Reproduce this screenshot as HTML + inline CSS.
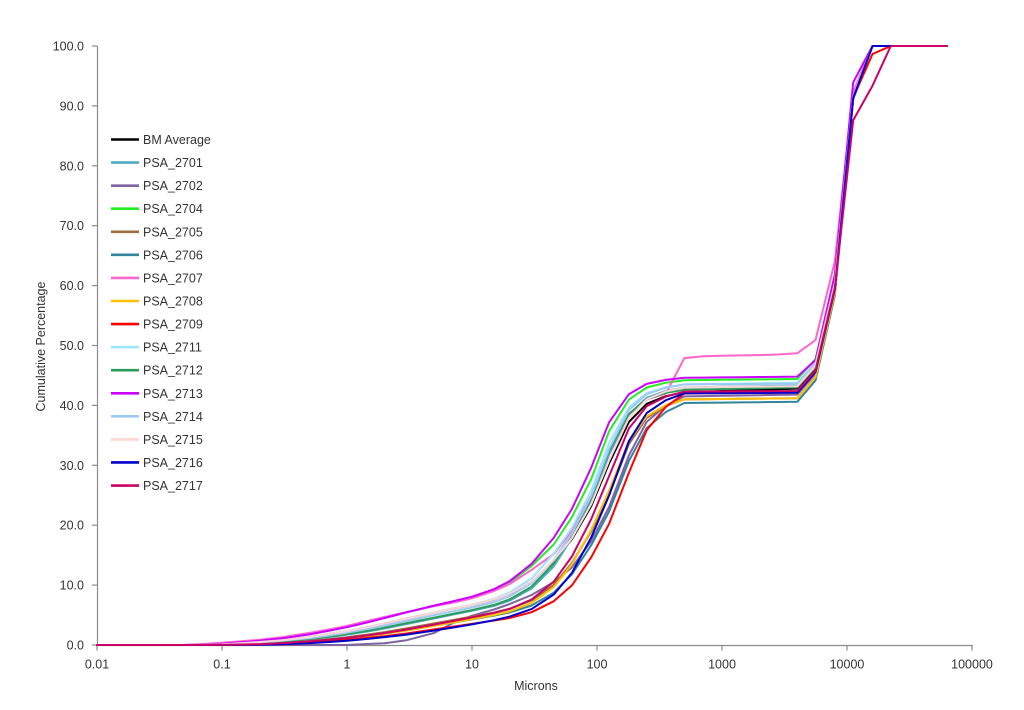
<!DOCTYPE html>
<html>
<head>
<meta charset="utf-8">
<style>
html,body{margin:0;padding:0;background:#fff;}
body{width:1024px;height:710px;overflow:hidden;}
svg{display:block;}
text{font-family:"Liberation Sans",sans-serif;fill:#333333;}
</style>
</head>
<body>
<svg id="chart" width="1024" height="710" viewBox="0 0 1024 710" xmlns="http://www.w3.org/2000/svg">
  <rect x="0" y="0" width="1024" height="710" fill="#fff"/>
  <line x1="97.5" y1="46" x2="97.5" y2="645.5" stroke="#8c8c8c" stroke-width="1.2"/>
  <line x1="97" y1="645.5" x2="973" y2="645.5" stroke="#8c8c8c" stroke-width="1.2"/>
  <g id="yticks" stroke="#8c8c8c" stroke-width="1.2"></g>
  <g id="xticks" stroke="#8c8c8c" stroke-width="1.2"></g>
  <g id="ylabels" font-size="12.5" text-anchor="end"></g>
  <g id="xlabels" font-size="12.5" text-anchor="middle"></g>
  <text x="536" y="690" font-size="12.5" text-anchor="middle">Microns</text>
  <text x="0" y="0" font-size="12.5" text-anchor="middle" transform="translate(45,346.5) rotate(-90)">Cumulative Percentage</text>
  <g id="series" fill="none" stroke-width="2" stroke-linejoin="round" stroke-linecap="round"></g>
  <g id="legend" font-size="12.5"></g>
</svg>
<script>
(function(){
var NS="http://www.w3.org/2000/svg";
function el(tag,attrs,parent,txt){var e=document.createElementNS(NS,tag);for(var k in attrs)e.setAttribute(k,attrs[k]);if(txt!==undefined)e.textContent=txt;parent.appendChild(e);return e;}
function px(x){return 97+125*(Math.log10(x)+2);}
function py(v){return 645-5.99*v;}
var yt=document.getElementById('yticks'),yl=document.getElementById('ylabels');
for(var i=0;i<=10;i++){var y=py(i*10);el('line',{x1:92,y1:y,x2:97.5,y2:y},yt);el('text',{x:84,y:y+4.5},yl,(i*10).toFixed(1));}
var xt=document.getElementById('xticks'),xl=document.getElementById('xlabels');
var xlab=['0.01','0.1','1','10','100','1000','10000','100000'];
for(var j=0;j<8;j++){var x=97+125*j;el('line',{x1:x,y1:645,x2:x,y2:650.5},xt);el('text',{x:x,y:668.5},xl,xlab[j]);}

var sizes=[0.01,0.05,0.1,0.2,0.3,0.5,0.7,1,1.5,2,3,5,7,10,15,20,30,45,63,90,125,180,250,355,500,710,1000,1400,2000,2800,4000,5600,8000,11200,16000,22400,63000];
var fx=[0.05,0.1,0.2,0.3,0.5,0.7,1,1.5,2,3,5,7,10,15,20,30,45];
var fy=[0,0.01,0.05,0.08,0.13,0.18,0.23,0.30,0.36,0.44,0.54,0.60,0.65,0.72,0.78,0.88,1.0];
function f(x){if(x<=fx[0])return 0;if(x>=fx[fx.length-1])return 1;
 for(var i=1;i<fx.length;i++){if(x<=fx[i]){var t=(Math.log(x)-Math.log(fx[i-1]))/(Math.log(fx[i])-Math.log(fx[i-1]));return fy[i-1]+t*(fy[i]-fy[i-1]);}}return 1;}
function sand(x,s){if(x>=500)return 1;var d=px(x)-600-s;var t=d<0?d/24:d/17;return 1/(1+Math.exp(-t));}
var lav=[[0.01,0],[1,0],[2,0.3],[3,0.8],[5,2.0],[7,3.6],[10,4.8],[15,5.7],[20,6.4],[30,7.3],[45,8]];
function lavF(x){if(x<=1)return 0;if(x>=45)return 8;for(var i=1;i<lav.length;i++){if(x<=lav[i][0]){var t=(Math.log(x)-Math.log(lav[i-1][0]))/(Math.log(lav[i][0])-Math.log(lav[i-1][0]));return lav[i-1][1]+t*(lav[i][1]-lav[i-1][1]);}}return 8;}
var G=[0.06,0.30,0.85,1,1,1];
var S=[
 {n:'BM Average',c:'#000000',A:10,k:1,s:0,P5:42.2,P40:42.8},
 {n:'PSA_2701',c:'#4bacc6',A:9,k:1.3,s:-3,P5:43,P40:43.3},
 {n:'PSA_2702',c:'#8064a2',A:8,k:1,s:14,P5:41.5,P40:41.8,lav:true},
 {n:'PSA_2704',c:'#22ee22',A:11,k:0.75,s:-9,P5:44.2,P40:44.4},
 {n:'PSA_2705',c:'#9c6b3e',A:8,k:1.6,s:8,P5:41,P40:41.2},
 {n:'PSA_2706',c:'#31849b',A:7.5,k:1.8,s:14,P5:40.4,P40:40.6},
 {n:'PSA_2707',c:'#ff66cc',A:10.5,k:0.65,s:-4,P5:42.5,P40:48.7,pink:true},
 {n:'PSA_2708',c:'#ffc000',A:7.5,k:1.8,s:6,P5:41,P40:41.2},
 {n:'PSA_2709',c:'#ff0000',A:6.4,k:2,s:20,P5:42,P40:42.2,g:[0.06,0.30,0.85,0.977,1,1]},
 {n:'PSA_2711',c:'#99e6ff',A:10,k:1,s:-6,P5:43.5,P40:43.8},
 {n:'PSA_2712',c:'#2e9d5a',A:9,k:1.2,s:-5,P5:42.6,P40:43},
 {n:'PSA_2713',c:'#cc00ff',A:11.5,k:0.85,s:-12,P5:44.6,P40:44.8,g:[0.05,0.31,0.89,1,1,1]},
 {n:'PSA_2714',c:'#9dc9f5',A:9.5,k:1.1,s:-4,P5:43.5,P40:43.6},
 {n:'PSA_2715',c:'#ffd6d6',A:10,k:1,s:0,P5:43,P40:43.2},
 {n:'PSA_2716',c:'#0000cc',A:6.8,k:2.6,s:8,P5:42,P40:42.1},
 {n:'PSA_2717',c:'#cc0066',A:8,k:1.8,s:3,P5:42.3,P40:42.4,g:[0.06,0.30,0.785,0.885,1,1]}
];
var pinkPl={500:47.9,710:48.2,1000:48.3,1400:48.35,2000:48.4,2800:48.5,4000:48.7};
var gs=[5600,8000,11200,16000,22400,63000];
var sg=document.getElementById('series');
S.forEach(function(o){
 var pts=[];
 sizes.forEach(function(x){
  var v;
  if(x<=4000){
   var fine=o.lav?lavF(x):o.A*f(x/o.k);
   var A=o.lav?8:o.A;
   v=fine+(o.P5-A)*sand(x,o.s);
   if(x>500&&!o.pink)v=o.P5+(o.P40-o.P5)*Math.log(x/500)/Math.log(8);
   if(o.pink&&x>=500)v=pinkPl[x];
  }else{
   var g=o.g||G;var idx=gs.indexOf(x);
   if(o.pink&&x===5600)v=50.9;else v=o.P40+(100-o.P40)*g[idx];
  }
  if(x<=0.05)v=0;
  pts.push(px(x).toFixed(1)+','+py(v).toFixed(1));
 });
 el('polyline',{points:pts.join(' '),stroke:o.c},sg);
});
var lg=document.getElementById('legend');
S.forEach(function(o,i){var y=139.5+i*23.07;el('line',{x1:111,y1:y,x2:139,y2:y,stroke:o.c,'stroke-width':2.6},lg);el('text',{x:143,y:y+4.5},lg,o.n);});
})();
</script>
</body>
</html>
